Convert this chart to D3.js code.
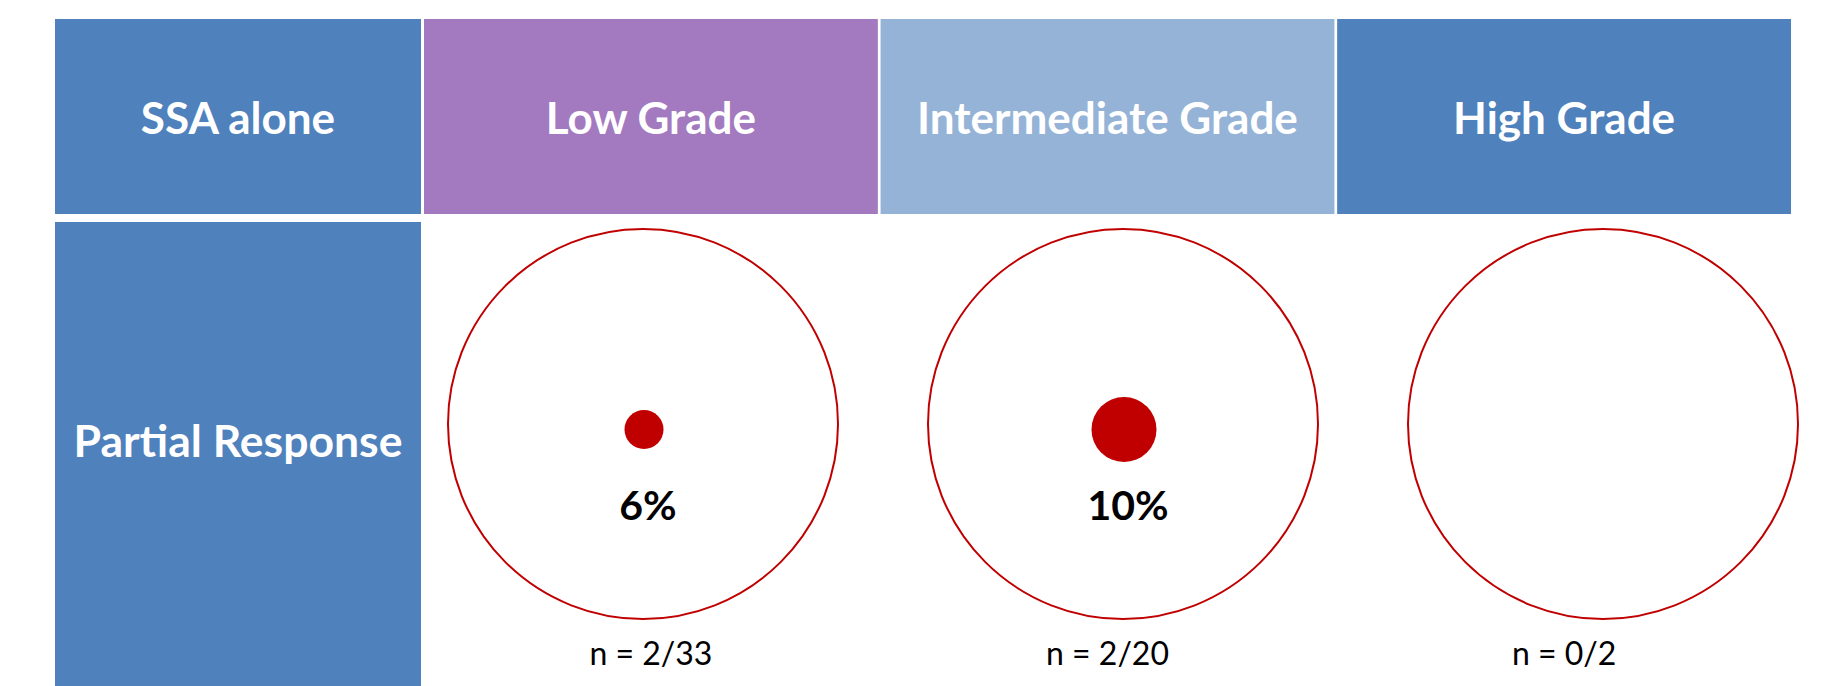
<!DOCTYPE html>
<html>
<head>
<meta charset="utf-8">
<script src="https://cdn.jsdelivr.net/npm/d3@7"></script>
<style>
  html, body { margin: 0; padding: 0; background: #ffffff; overflow: hidden; }
  svg { display: block; }
</style>
</head>
<body>
<svg id="chart" width="1831" height="686"></svg>
<script>
// Response rates by tumour grade
const cornerLabel = "SSA alone";
const rowLabel = "Partial Response";
const categories = ["Low Grade", "Intermediate Grade", "High Grade"];
const headerColors = ["#A379C0", "#95B3D7", "#4F81BD"];
const responders = [2, 2, 0];
const totals = [33, 20, 2];
const percents = [6, 10, 0];
const percentLabels = ["6%", "10%", ""];

const labelBlue = "#4F81BD";
const markRed = "#C00000";
const fontFamily = "Lato, 'Open Sans', sans-serif";

const svg = d3.select("#chart");

// table geometry
const tableLeft = 55, firstColRight = 421;
const headerTop = 19, headerBottom = 214;
const bodyTop = 222, bodyBottom = 720;

const colX = d3.scaleBand()
  .domain(categories)
  .range([424, 1791])
  .paddingInner(0.006)
  .paddingOuter(0);

const circleX = d3.scalePoint()
  .domain(categories)
  .range([643, 1603]);

const radius = d3.scaleLinear().domain([0, 100]).range([0, 325]);

const outerR = 195;
const circleY = 424;
const dotY = 429.5;

// header row: corner cell
svg.append("rect")
  .attr("x", tableLeft).attr("y", headerTop)
  .attr("width", firstColRight - tableLeft).attr("height", headerBottom - headerTop)
  .attr("fill", labelBlue);

svg.append("text")
  .attr("x", (tableLeft + firstColRight) / 2)
  .attr("y", (headerTop + headerBottom) / 2 + 17)
  .attr("text-anchor", "middle")
  .attr("fill", "#ffffff")
  .attr("font-family", fontFamily)
  .attr("font-weight", 700)
  .attr("font-size", 44)
  .text(cornerLabel);

// header row: grade cells
const headers = svg.append("g").selectAll("g")
  .data(categories)
  .join("g");

headers.append("rect")
  .attr("x", d => colX(d))
  .attr("y", headerTop)
  .attr("width", colX.bandwidth())
  .attr("height", headerBottom - headerTop)
  .attr("fill", (d, i) => headerColors[i]);

headers.append("text")
  .attr("x", d => colX(d) + colX.bandwidth() / 2)
  .attr("y", (headerTop + headerBottom) / 2 + 17)
  .attr("text-anchor", "middle")
  .attr("fill", "#ffffff")
  .attr("font-family", fontFamily)
  .attr("font-weight", 700)
  .attr("font-size", 44)
  .text(d => d);

// row label cell
svg.append("rect")
  .attr("x", tableLeft).attr("y", bodyTop)
  .attr("width", firstColRight - tableLeft).attr("height", bodyBottom - bodyTop)
  .attr("fill", labelBlue);

svg.append("text")
  .attr("x", (tableLeft + firstColRight) / 2)
  .attr("y", 457)
  .attr("text-anchor", "middle")
  .attr("fill", "#ffffff")
  .attr("font-family", fontFamily)
  .attr("font-weight", 700)
  .attr("font-size", 44.5)
  .text(rowLabel);

// response circles
const cells = svg.append("g").selectAll("g")
  .data(categories.map((c, i) => ({
    cat: c, pct: percents[i], label: percentLabels[i],
    n: responders[i], total: totals[i]
  })))
  .join("g");

cells.append("circle")
  .attr("cx", d => circleX(d.cat))
  .attr("cy", circleY)
  .attr("r", outerR)
  .attr("fill", "none")
  .attr("stroke", markRed)
  .attr("stroke-width", 2);

cells.filter(d => d.pct > 0).append("circle")
  .attr("cx", d => circleX(d.cat) + 1)
  .attr("cy", dotY)
  .attr("r", d => radius(d.pct))
  .attr("fill", markRed);

cells.filter(d => d.pct > 0).append("text")
  .attr("x", d => circleX(d.cat) + 5)
  .attr("y", 519.5)
  .attr("text-anchor", "middle")
  .attr("fill", "#000000")
  .attr("font-family", fontFamily)
  .attr("font-weight", 700)
  .attr("font-size", 41)
  .text(d => d.label);

cells.append("text")
  .attr("x", d => colX(d.cat) + colX.bandwidth() / 2)
  .attr("y", 665)
  .attr("text-anchor", "middle")
  .attr("fill", "#000000")
  .attr("font-family", fontFamily)
  .attr("font-weight", 400)
  .attr("font-size", 32)
  .text(d => `n = ${d.n}/${d.total}`);
</script>
</body>
</html>
